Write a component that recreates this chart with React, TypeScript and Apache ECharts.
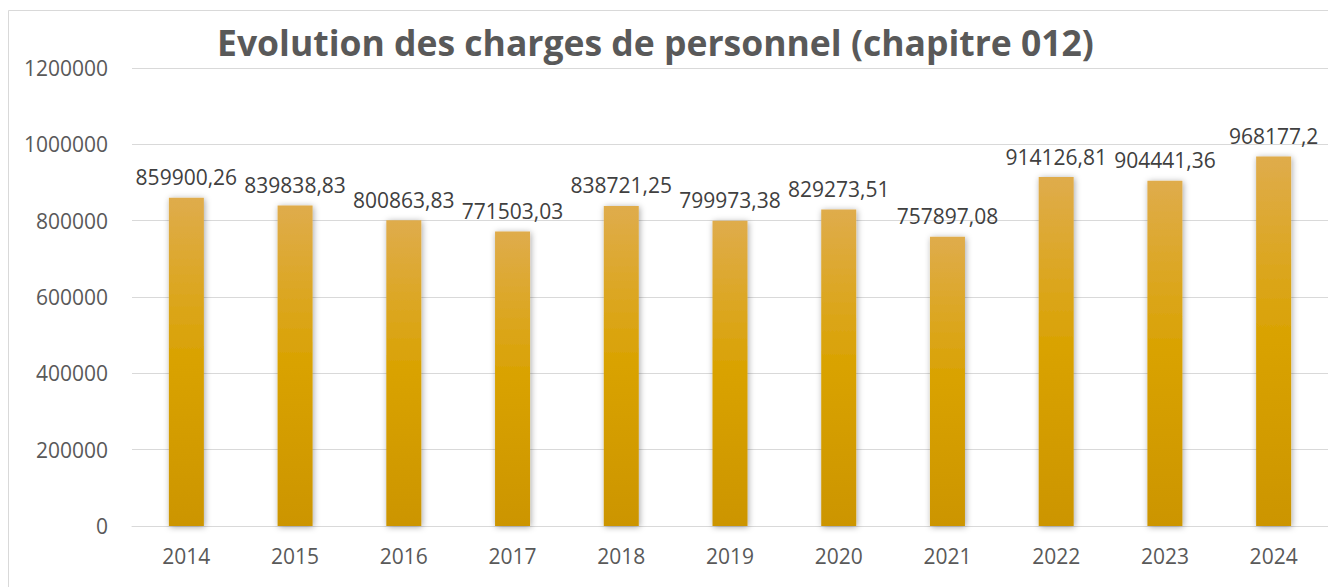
import React, { useEffect, useRef } from "react";
import * as echarts from "echarts";

const years = ["2014", "2015", "2016", "2017", "2018", "2019", "2020", "2021", "2022", "2023", "2024"];
const charges = [859900.26, 839838.83, 800863.83, 771503.03, 838721.25, 799973.38, 829273.51, 757897.08, 914126.81, 904441.36, 968177.2];
const titleText = "Evolution des charges de personnel (chapitre 012)";
const yMin = 0;
const yMax = 1200000;
const yStep = 200000;

const FONT = "'Open Sans', 'Noto Sans', sans-serif";

export default function App() {
  const ref = useRef<HTMLDivElement>(null);
  useEffect(() => {
    if (!ref.current) return;
    const chart = echarts.init(ref.current, null, { renderer: "svg" });
    chart.setOption({
      animation: false,
      backgroundColor: "#ffffff",
      graphic: [
        {
          type: "rect",
          shape: { x: 8.5, y: 10.5, width: 1340, height: 600 },
          style: { fill: "none", stroke: "#d9d9d9", lineWidth: 1 },
          silent: true,
          z: 0,
        },
        {
          type: "text",
          left: 217,
          top: 24,
          style: {
            text: titleText,
            fill: "#595959",
            font: `bold 35.5px ${FONT}`,
          },
          z: 10,
        },
      ],
      grid: { left: 132, right: -7, top: 68, bottom: 61, containLabel: false },
      xAxis: {
        type: "category",
        data: years,
        axisLine: { show: true, lineStyle: { color: "#d9d9d9", width: 1 } },
        axisTick: { show: false },
        axisLabel: { color: "#595959", fontFamily: FONT, fontSize: 21, margin: 19 },
      },
      yAxis: {
        type: "value",
        min: yMin,
        max: yMax,
        interval: yStep,
        axisLine: { show: false },
        axisTick: { show: false },
        splitLine: { lineStyle: { color: "#d9d9d9", width: 1 } },
        axisLabel: {
          color: "#595959",
          fontFamily: FONT,
          fontSize: 21,
          margin: 24,
          formatter: (v: number) => String(v),
        },
      },
      series: [
        {
          type: "bar",
          data: charges,
          barWidth: 35,
          itemStyle: {
            color: new echarts.graphic.LinearGradient(0, 0, 0, 1, [
              { offset: 0, color: "#DFAC4C" },
              { offset: 0.5, color: "#D9A200" },
              { offset: 1, color: "#CC9500" },
            ]),
            shadowBlur: 6,
            shadowColor: "rgba(0,0,0,0.35)",
            shadowOffsetX: 1,
            shadowOffsetY: 1,
          },
          label: {
            show: true,
            position: "top",
            distance: 10,
            color: "#404040",
            fontFamily: FONT,
            fontSize: 21,
            formatter: (p: any) => String(p.value).replace(".", ","),
          },
        },
      ],
    });
    return () => chart.dispose();
  }, []);
  return (
    <div
      ref={ref}
      style={{ position: "fixed", left: 0, top: 0, width: 1328, height: 587 }}
    />
  );
}
